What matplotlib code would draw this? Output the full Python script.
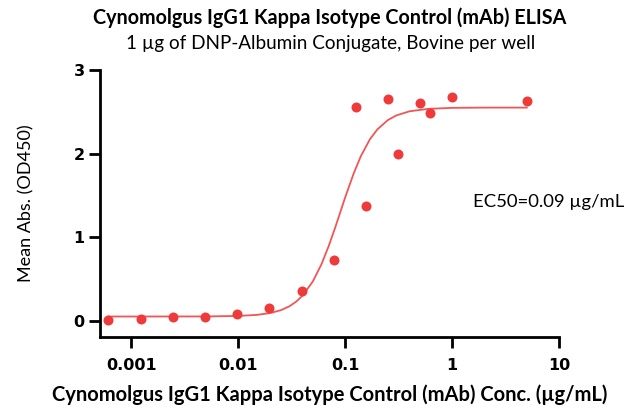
"""ELISA binding curve: Cynomolgus IgG1 Kappa Isotype Control (mAb)."""

import matplotlib

matplotlib.use("Agg")
import matplotlib.pyplot as plt
from matplotlib.ticker import FixedLocator, FuncFormatter, NullLocator

# measured points (conc. in ug/mL, mean OD450)
CONC = [0.00061, 0.00122, 0.00244, 0.00488, 0.00977, 0.0195, 0.039, 0.078,
        0.125, 0.156, 0.25, 0.3125, 0.5, 0.625, 1.0, 5.0]
OD = [0.01, 0.02, 0.05, 0.04, 0.08, 0.155, 0.36, 0.73,
      2.56, 1.37, 2.65, 1.99, 2.60, 2.48, 2.68, 2.63]

# fitted curve
FIT_X = [0.00061, 0.005, 0.01, 0.015, 0.02, 0.025, 0.03, 0.035, 0.04, 0.05,
         0.06, 0.07, 0.08, 0.09, 0.10, 0.12, 0.14, 0.17, 0.2, 0.25, 0.3,
         0.4, 0.6, 1.0, 2.0, 5.0]
FIT_Y = [0.05, 0.051, 0.057, 0.070, 0.092, 0.126, 0.172, 0.231, 0.302, 0.474,
         0.677, 0.892, 1.103, 1.30, 1.477, 1.762, 1.969, 2.17, 2.29, 2.40, 2.456,
         2.506, 2.535, 2.547, 2.55, 2.55]

X_TICKS = [0.001, 0.01, 0.1, 1, 10]
Y_TICKS = [0, 1, 2, 3]

RED = "#EE3A3A"
CURVE = "#F25555"

TITLE = "Cynomolgus IgG1 Kappa Isotype Control (mAb) ELISA"
SUBTITLE = "1 \u00b5g of DNP-Albumin Conjugate, Bovine per well"
XLABEL = "Cynomolgus IgG1 Kappa Isotype Control (mAb) Conc. (\u00b5g/mL)"
YLABEL = "Mean Abs. (OD450)"
EC50_TEXT = "EC50=0.09 \u00b5g/mL"

plt.rcParams["font.family"] = ["Lato", "DejaVu Sans"]

fig = plt.figure(figsize=(6.3, 4.13), dpi=100)
ax = fig.add_axes([100 / 630, 1 - 337 / 413, 459 / 630, 267 / 413])

ax.plot(FIT_X, FIT_Y, color=CURVE, linewidth=1.3, zorder=2)
ax.plot(CONC, OD, linestyle="none", marker="o", markersize=7.2,
        color=RED, markeredgewidth=0, zorder=3)

ax.set_xscale("log")
ax.set_xlim(0.000508, 10)
ax.set_ylim(-0.195, 3)

ax.xaxis.set_major_locator(FixedLocator(X_TICKS))
ax.xaxis.set_minor_locator(NullLocator())
ax.xaxis.set_major_formatter(FuncFormatter(lambda v, _p: f"{v:g}"))
ax.yaxis.set_major_locator(FixedLocator(Y_TICKS))

for side in ("top", "right"):
    ax.spines[side].set_visible(False)
for side in ("left", "bottom"):
    ax.spines[side].set_linewidth(2.0)

ax.tick_params(axis="both", direction="out", width=2.0, length=8,
               labelsize=11.5, pad=3)
ax.tick_params(axis="x", pad=7)
for lab in ax.get_xticklabels() + ax.get_yticklabels():
    lab.set_fontfamily("DejaVu Sans")
    lab.set_fontweight("bold")

ax.set_xlabel(XLABEL, fontsize=14.5, fontweight="bold", labelpad=8)
ax.set_ylabel(YLABEL, fontsize=13, labelpad=28)

fig.text(330 / 630, 1 - 18 / 413, TITLE, ha="center", va="center",
         fontsize=14.2, fontweight="bold")
fig.text(331 / 630, 1 - 43 / 413, SUBTITLE, ha="center", va="center",
         fontsize=13.6)
fig.text(473 / 630, 1 - 202 / 413, EC50_TEXT, ha="left", va="center",
         fontsize=13.3)

fig.savefig("out.png", dpi=100)
